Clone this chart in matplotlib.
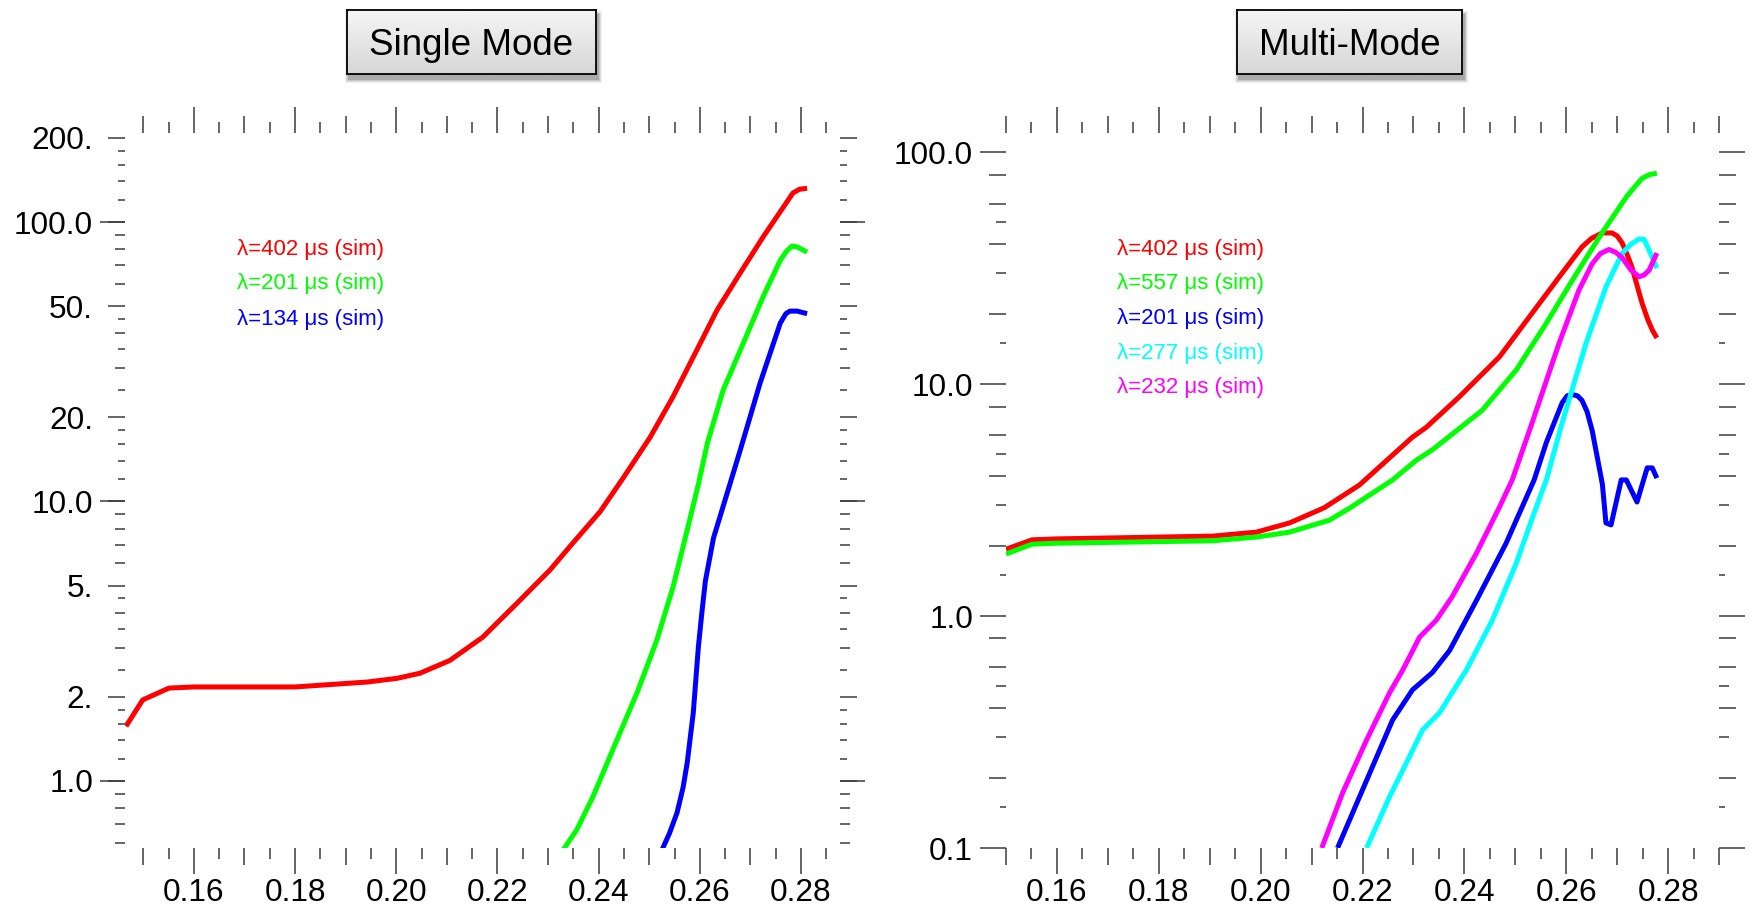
import numpy as np
import matplotlib
matplotlib.use("Agg")
import matplotlib.pyplot as plt
from matplotlib.patches import Rectangle
from matplotlib.ticker import FixedLocator, NullFormatter, NullLocator

plt.rcParams['font.family'] = ['Liberation Sans', 'DejaVu Sans']

# ---------------- data ----------------
panel_titles = ["Single Mode", "Multi-Mode"]

# Single mode panel
sm_red_x = [0.1466, 0.1499, 0.1551, 0.1600, 0.1800, 0.1943, 0.2002, 0.2047, 0.2106, 0.2171,
            0.2239, 0.2304, 0.2349, 0.2403, 0.2448, 0.2502, 0.2547, 0.2594, 0.2634, 0.2680,
            0.2725, 0.2765, 0.2784, 0.2797, 0.2812]
sm_red_y = [1.57, 1.95, 2.15, 2.17, 2.17, 2.26, 2.33, 2.43, 2.70, 3.27,
            4.33, 5.69, 7.1, 9.2, 12.1, 17.0, 23.7, 34.8, 48.4, 65.8,
            88.4, 113, 127, 131, 132]
sm_green_x = [0.2325, 0.2357, 0.2389, 0.2436, 0.2476, 0.2515, 0.2547, 0.2575, 0.2597, 0.2615,
              0.2646, 0.2686, 0.2725, 0.2759, 0.2771, 0.2782, 0.2792, 0.2812]
sm_green_y = [0.55, 0.67, 0.88, 1.40, 2.07, 3.19, 4.94, 7.9, 11.5, 16.2,
              25, 36.9, 54, 73, 78.5, 82, 81.5, 78]
sm_blue_x = [0.2522, 0.2540, 0.2555, 0.2567, 0.2575, 0.2587, 0.2597, 0.2604, 0.2611, 0.2627,
             0.2646, 0.2680, 0.2719, 0.2759, 0.2770, 0.2778, 0.2792, 0.2812]
sm_blue_y = [0.55, 0.65, 0.77, 0.95, 1.16, 1.75, 3.0, 4.0, 5.2, 7.4,
             9.6, 15.3, 26.5, 43.5, 47, 48, 48, 47]
sm_labels = ["λ=402 μs (sim)", "λ=201 μs (sim)", "λ=134 μs (sim)"]

# Multi mode panel
mm_red_x = [0.1500, 0.1551, 0.1600, 0.1906, 0.1992, 0.2057, 0.2125, 0.2194, 0.2298, 0.2325,
            0.2390, 0.2469, 0.2533, 0.2586, 0.2631, 0.2650, 0.2671, 0.2690, 0.2700, 0.2710,
            0.2720, 0.2729, 0.2749, 0.2760, 0.2769, 0.2778]
mm_red_y = [1.94, 2.13, 2.15, 2.21, 2.30, 2.52, 2.93, 3.67, 5.9, 6.5,
            8.8, 13.1, 20.2, 28.9, 39, 42.5, 44.8, 44.8, 43.5, 40.5,
            36, 31.9, 22.3, 19, 17.1, 15.8]
mm_green_x = [0.1500, 0.1551, 0.1600, 0.1906, 0.1992, 0.2057, 0.2135, 0.2175, 0.2259, 0.2306,
              0.2337, 0.2435, 0.2502, 0.2561, 0.2612, 0.2665, 0.2718, 0.2735, 0.2749, 0.2764,
              0.2778]
mm_green_y = [1.85, 2.04, 2.06, 2.11, 2.19, 2.30, 2.59, 2.92, 3.86, 4.70,
              5.2, 7.7, 11.5, 18.3, 28, 43, 64, 71, 77, 80,
              81]
mm_blue_x = [0.2151, 0.2200, 0.2259, 0.2298, 0.2337, 0.2371, 0.2424, 0.2482, 0.2537, 0.2561,
             0.2592, 0.2602, 0.2612, 0.2622, 0.2631, 0.2641, 0.2651, 0.2671, 0.2678, 0.2688,
             0.2708, 0.2718, 0.2739, 0.2759, 0.2769, 0.2778]
mm_blue_y = [0.1, 0.178, 0.356, 0.48, 0.57, 0.71, 1.17, 2.06, 3.86, 5.6,
             8.3, 8.9, 9.0, 8.9, 8.5, 7.6, 6.3, 3.7, 2.52, 2.47,
             3.86, 3.86, 3.1, 4.35, 4.35, 3.93]
mm_cyan_x = [0.2208, 0.2253, 0.2292, 0.2318, 0.2351, 0.2404, 0.2455, 0.2502, 0.2537, 0.2561,
             0.2592, 0.2639, 0.2678, 0.2710, 0.2727, 0.2743, 0.2753, 0.2761, 0.2769, 0.2778]
mm_cyan_y = [0.1, 0.166, 0.247, 0.323, 0.382, 0.585, 0.96, 1.69, 2.78, 3.86,
             6.8, 15.0, 26.2, 36.7, 40, 42.2, 42, 38.5, 35, 31.6]
mm_magenta_x = [0.2120, 0.2161, 0.2208, 0.2253, 0.2279, 0.2312, 0.2345, 0.2376, 0.2424, 0.2469,
                0.2494, 0.2533, 0.2586, 0.2625, 0.2651, 0.2667, 0.2684, 0.2697, 0.2710, 0.2727,
                0.2743, 0.2753, 0.2763, 0.2778]
mm_magenta_y = [0.1, 0.173, 0.292, 0.466, 0.585, 0.81, 0.96, 1.21, 1.87, 2.95,
                3.86, 6.8, 15.0, 25.4, 33, 36.5, 38, 37, 35, 31,
                29, 29.5, 31, 36.7]
mm_labels = ["λ=402 μs (sim)", "λ=557 μs (sim)", "λ=201 μs (sim)",
             "λ=277 μs (sim)", "λ=232 μs (sim)"]

# axis ticks
x_major = [0.16, 0.18, 0.20, 0.22, 0.24, 0.26, 0.28]
x_major_labels = ["0.16", "0.18", "0.20", "0.22", "0.24", "0.26", "0.28"]
x_medium = [0.15, 0.17, 0.19, 0.21, 0.23, 0.25, 0.27, 0.29]
x_short = [0.145, 0.155, 0.165, 0.175, 0.185, 0.195, 0.205, 0.215, 0.225, 0.235,
           0.245, 0.255, 0.265, 0.275, 0.285]

sm_y_labeled = [200, 100, 50, 20, 10, 5, 2, 1]
sm_y_labels = ["200.", "100.0", "50.", "20.", "10.0", "5.", "2.", "1.0"]
sm_y_decades = [1, 10, 100]
sm_y_mid = [0.6, 0.7, 0.8, 0.9, 3, 4, 6, 7, 8, 9, 30, 40, 60, 70, 80, 90]
sm_y_small = [1.2, 1.4, 1.6, 1.8, 2.5, 3.5, 4.5, 12, 14, 16, 18, 25, 35, 45,
              120, 140, 160, 180]

mm_y_labeled = [100, 10, 1, 0.1]
mm_y_labels = ["100.0", "10.0", "1.0", "0.1"]
mm_y_long = [0.2, 0.4, 0.6, 0.8, 2, 4, 6, 8, 20, 40, 60, 80]
mm_y_mid = [0.3, 0.5, 3, 5, 30, 50]
mm_y_small = [0.15, 1.5, 15]

# ---------------- figure ----------------
W, H = 1750, 907
fig = plt.figure(figsize=(W / 100, H / 100), dpi=100)
fig.patch.set_facecolor("white")

PX = 0.72  # points per pixel
TICK_COLOR = "#3c3c3c"
TW = 1.1
LW = 3.6
FS = 22.8


def px_axes(x0, y0, x1, y1, **kw):
    return fig.add_axes([x0 / W, 1 - y1 / H, (x1 - x0) / W, (y1 - y0) / H], **kw)


def style_common(ax):
    for s in ax.spines.values():
        s.set_visible(False)
    ax.tick_params(which="both", direction="out", color=TICK_COLOR, width=TW,
                   top=True, bottom=True, left=True, right=True,
                   labeltop=False, labelright=False)


def build_panel(box, xlim, ylim, ylab_vals, ylab_txt, ylab_len, ylab_pad,
                y_small, ov_major, ov_major_len, ov_minor, ov_minor_len, small_len):
    ax = px_axes(*box)
    ax.set_yscale("log")
    ax.set_xlim(*xlim)
    ax.set_ylim(*ylim)
    style_common(ax)
    ax.set_facecolor("none")
    ax.set_xticks(x_major, x_major_labels)
    ax.xaxis.set_minor_locator(FixedLocator(x_short))
    ax.set_yticks(ylab_vals, ylab_txt)
    ax.yaxis.set_minor_locator(FixedLocator(y_small))
    ax.yaxis.set_minor_formatter(NullFormatter())
    ax.tick_params(axis="x", which="major", length=26 * PX, pad=4 * PX, labelsize=FS)
    ax.tick_params(axis="x", which="minor", length=11 * PX)
    ax.tick_params(axis="y", which="major", length=ylab_len * PX, pad=ylab_pad * PX,
                   labelsize=FS)
    ax.tick_params(axis="y", which="minor", length=small_len * PX)

    # overlay for extra tick lengths
    ov = px_axes(*box)
    ov.set_yscale("log")
    ov.set_xlim(*xlim)
    ov.set_ylim(*ylim)
    style_common(ov)
    ov.patch.set_visible(False)
    ov.xaxis.set_major_locator(FixedLocator(x_medium))
    ov.xaxis.set_minor_locator(NullLocator())
    ov.yaxis.set_major_locator(FixedLocator(ov_major))
    ov.yaxis.set_minor_locator(FixedLocator(ov_minor))
    ov.xaxis.set_major_formatter(NullFormatter())
    ov.yaxis.set_major_formatter(NullFormatter())
    ov.yaxis.set_minor_formatter(NullFormatter())
    ov.tick_params(axis="x", which="major", length=17 * PX)
    ov.tick_params(axis="y", which="major", length=ov_major_len * PX)
    ov.tick_params(axis="y", which="minor", length=ov_minor_len * PX)
    return ax


# Left panel: x 125-840 px, y 133-848 px
axL = build_panel((125, 133, 840, 848), (0.1464, 0.2877), (0.5757, 208.2),
                  sm_y_labeled, sm_y_labels, 17, 15,
                  sm_y_small, sm_y_decades, 25, sm_y_mid, 10, 7)
# Right panel: x 1006-1719 px
axR = build_panel((1006, 133, 1719, 848), (0.15, 0.29), (0.1, 120.8),
                  mm_y_labeled, mm_y_labels, 26, 7,
                  mm_y_small, mm_y_long, 17, mm_y_mid, 10, 6)

kw = dict(lw=LW, solid_capstyle="butt", solid_joinstyle="round")
axL.plot(sm_red_x, sm_red_y, color="#ff0000", **kw)
axL.plot(sm_green_x, sm_green_y, color="#00ff00", **kw)
axL.plot(sm_blue_x, sm_blue_y, color="#0000ff", **kw)

axR.plot(mm_red_x, mm_red_y, color="#ff0000", **kw)
axR.plot(mm_green_x, mm_green_y, color="#00ff00", **kw)
axR.plot(mm_blue_x, mm_blue_y, color="#0000ff", **kw)
axR.plot(mm_cyan_x, mm_cyan_y, color="#00ffff", **kw)
axR.plot(mm_magenta_x, mm_magenta_y, color="#ff00ff", **kw)

# legend text
LFS = 16
sm_cols = ["#ff0000", "#00ff00", "#0000ff"]
mm_cols = ["#ff0000", "#00ff00", "#0000ff", "#00ffff", "#ff00ff"]
for i, (t, c) in enumerate(zip(sm_labels, sm_cols)):
    axL.text((237 - 125) / 715, (848 - 249 - 35 * i) / 715, t, color=c,
             fontsize=LFS, ha="left", va="center", transform=axL.transAxes)
for i, (t, c) in enumerate(zip(mm_labels, mm_cols)):
    axR.text((1117 - 1006) / 713, (848 - 249 - 34.75 * i) / 715, t, color=c,
             fontsize=LFS, ha="left", va="center", transform=axR.transAxes)


# title boxes with gradient and shadow
def title_box(x0, y0, x1, y1, text):
    for k, a in enumerate([0.06, 0.08, 0.10, 0.14]):
        g = 4 - k
        fig.patches.append(Rectangle(((x0 + 2 - g) / W, 1 - (y1 + 5 + g) / H),
                                     (x1 - x0 + 2 * g) / W, (y1 - y0 + 2 * g) / H,
                                     transform=fig.transFigure, facecolor="black",
                                     alpha=a, edgecolor="none", zorder=-5))
    bx = px_axes(x0, y0, x1, y1)
    bx.set_zorder(5)
    grad = np.linspace(0.96, 0.84, 64).reshape(-1, 1)
    bx.imshow(grad, cmap="gray", vmin=0, vmax=1, aspect="auto",
              extent=[0, 1, 0, 1], origin="upper", interpolation="bilinear")
    bx.set_xticks([])
    bx.set_yticks([])
    for s in bx.spines.values():
        s.set_color("black")
        s.set_linewidth(1.3)
    bx.text(0.5, 0.45, text, fontsize=26.5, ha="center", va="center",
            transform=bx.transAxes, color="black")


title_box(347, 10, 596, 74, panel_titles[0])
title_box(1237, 10, 1462, 74, panel_titles[1])

fig.savefig("out.png", dpi=100, facecolor="white")
